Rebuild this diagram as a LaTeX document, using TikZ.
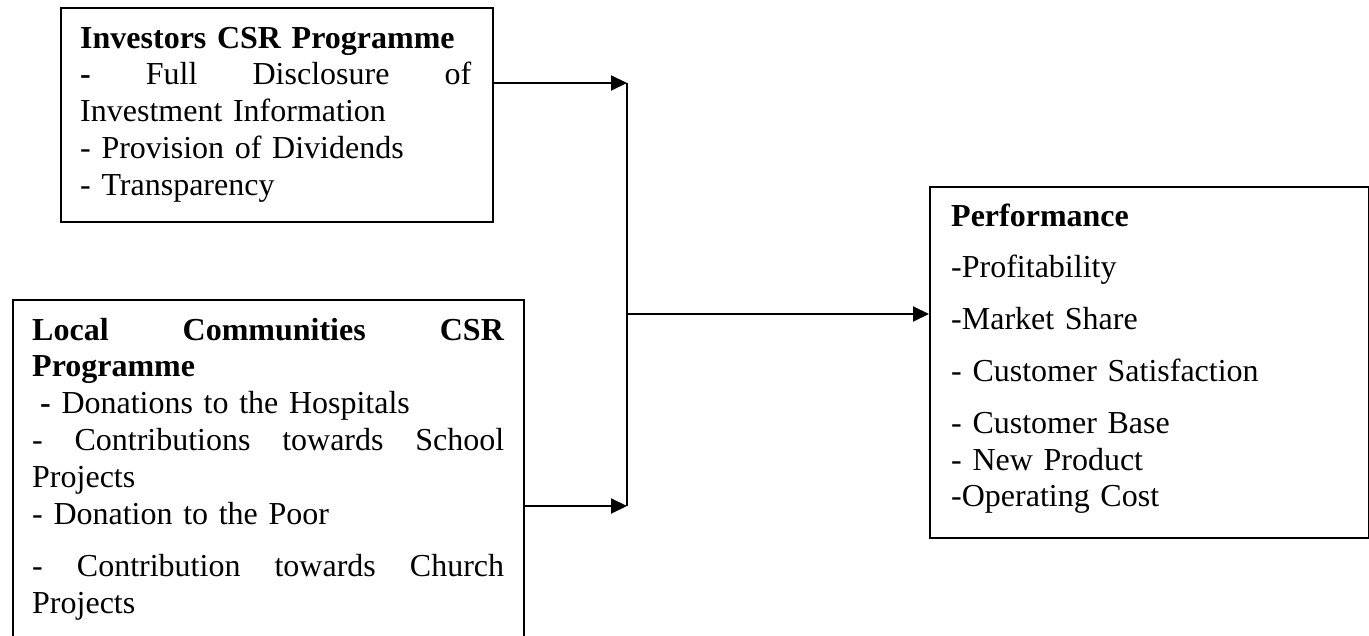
\documentclass[tikz,border=0pt]{standalone}
\usepackage{fontspec}
\setmainfont{Liberation Serif}
\usetikzlibrary{arrows.meta}
\tikzset{
  progbox/.style={draw, line width=2pt, anchor=north west, inner sep=0pt},
  boxtext/.style={anchor=north west, inner sep=0pt, align=left,
    font=\fontsize{32}{36.8}\selectfont},
  link/.style={line width=2pt},
  feed/.style={line width=2pt, -{Triangle[length=16pt,width=15pt]}}
}
% justified line of a given width
\newcommand{\jline}[2]{{\spaceskip=0.25em plus 20em\makebox[#1][s]{#2}}}
\begin{document}
\begin{tikzpicture}[x=1pt,y=-1pt]
  \clip (0,0) rectangle (1369,636);
  % boxes
  \node[progbox, minimum width=432pt, minimum height=214pt] (inv) at (60,7) {};
  \node[progbox, minimum width=511pt, minimum height=346pt] (loc) at (12,299) {};
  \node[progbox, minimum width=439pt, minimum height=351pt] (perf) at (929,186) {};
  % box texts
  \node[boxtext, text width=391pt] (invtxt) at (80,22.2) {\strut\textbf{Investors CSR Programme}\\
    \jline{391pt}{\textbf{-} Full Disclosure of}\\
    Investment Information\\
    - Provision of Dividends\\
    - Transparency};
  \node[boxtext, text width=472pt] (loctxt) at (32,314.2) {\strut\jline{472pt}{\textbf{Local Communities CSR}}\\
    \textbf{Programme}\\
    \hspace{8pt}\textbf{-} Donations to the Hospitals\\
    \jline{472pt}{- Contributions towards School}\\
    Projects\\
    - Donation to the Poor\\[16pt]
    \jline{472pt}{- Contribution towards Church}\\
    Projects};
  \node[boxtext, text width=400pt] (perftxt) at (951,200.2) {\strut\textbf{Performance}\\[15pt]
    -Profitability\\[15pt]
    -Market Share\\[15pt]
    - Customer Satisfaction\\[15pt]
    - Customer Base\\
    - New Product\\
    -Operating Cost};
  % connectors
  \coordinate (top) at (627,83);
  \coordinate (bot) at (627,506);
  \coordinate (mid) at (627,314);
  \draw[feed] (inv.east |- top) -- (top);
  \draw[feed] (loc.east |- bot) -- (bot);
  \draw[link] (top) -- (bot);
  \draw[feed] (mid) -- (perf.west |- mid);
\end{tikzpicture}
\end{document}
